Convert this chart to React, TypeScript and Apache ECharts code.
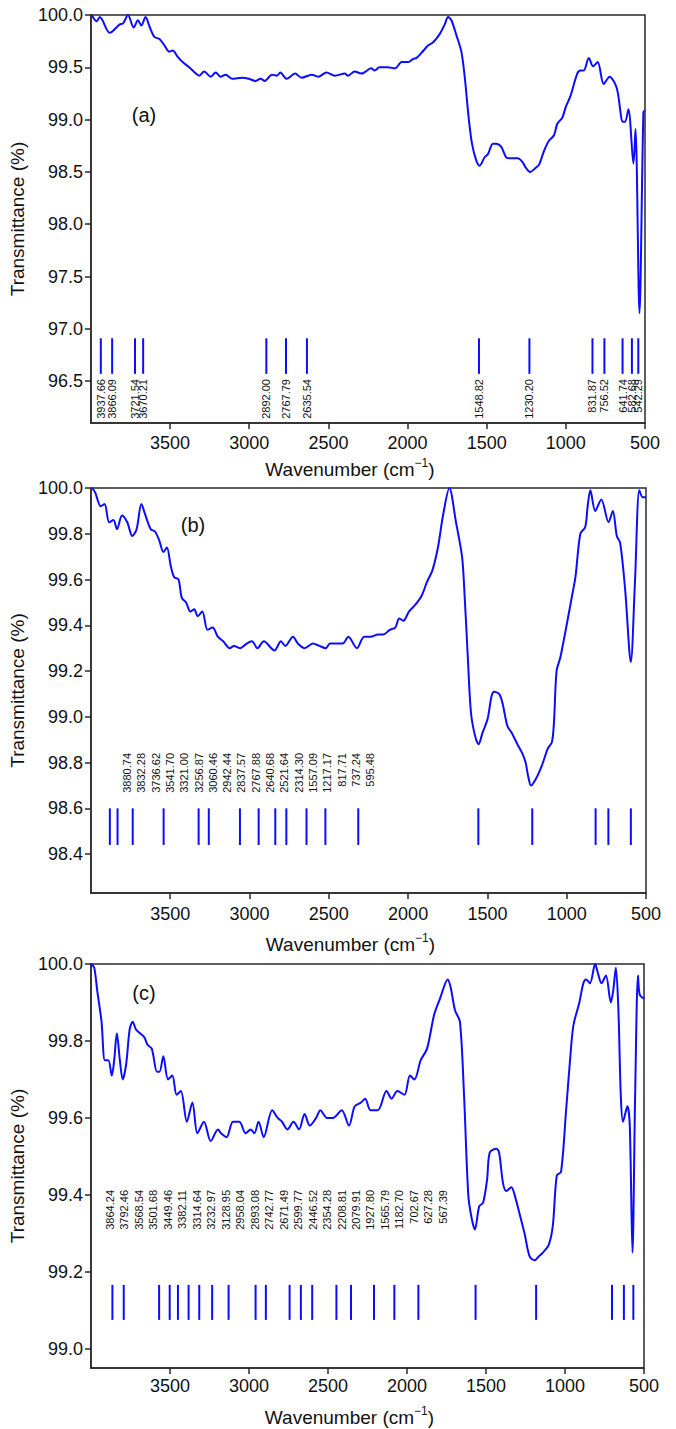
import React, { useEffect, useRef } from "react";
import * as echarts from "echarts";

// ---------- tick values ----------
const xTicks = [3500, 3000, 2500, 2000, 1500, 1000, 500];
const aYTicks = [96.5, 97.0, 97.5, 98.0, 98.5, 99.0, 99.5, 100.0];
const bYTicks = [98.4, 98.6, 98.8, 99.0, 99.2, 99.4, 99.6, 99.8, 100.0];
const cYTicks = [99.0, 99.2, 99.4, 99.6, 99.8, 100.0];

// ---------- panel (a) ----------
const aWave = [3995, 3964, 3944, 3881, 3818, 3797, 3766, 3730, 3703, 3682, 3655, 3630, 3599, 3567, 3536, 3505, 3484, 3452, 3421, 3379, 3337, 3316, 3285, 3243, 3212, 3180, 3149, 3107, 3045, 3003, 2961, 2929, 2902, 2857, 2825, 2804, 2763, 2710, 2669, 2606, 2564, 2512, 2459, 2396, 2376, 2334, 2292, 2229, 2208, 2177, 2125, 2079, 2037, 1995, 1964, 1943, 1911, 1869, 1838, 1796, 1765, 1744, 1723, 1692, 1660, 1639, 1614, 1593, 1566, 1545, 1513, 1492, 1461, 1440, 1408, 1377, 1346, 1304, 1272, 1253, 1225, 1190, 1169, 1138, 1106, 1075, 1054, 1022, 1001, 970, 928, 907, 887, 855, 828, 799, 761, 724, 678, 640, 626, 605, 573, 560, 535, 510, 500];
const aTrans = [100.0, 99.94, 99.98, 99.83, 99.91, 99.92, 100.0, 99.88, 99.95, 99.9, 99.98, 99.89, 99.79, 99.77, 99.71, 99.65, 99.66, 99.6, 99.55, 99.5, 99.44, 99.42, 99.46, 99.41, 99.45, 99.41, 99.43, 99.39, 99.4, 99.39, 99.37, 99.39, 99.37, 99.43, 99.42, 99.45, 99.39, 99.44, 99.4, 99.43, 99.41, 99.45, 99.42, 99.44, 99.42, 99.46, 99.44, 99.49, 99.47, 99.5, 99.5, 99.49, 99.55, 99.55, 99.58, 99.59, 99.64, 99.71, 99.74, 99.82, 99.91, 99.98, 99.95, 99.81, 99.65, 99.41, 99.02, 98.77, 98.61, 98.56, 98.64, 98.67, 98.77, 98.77, 98.74, 98.64, 98.63, 98.63, 98.59, 98.54, 98.5, 98.54, 98.57, 98.7, 98.8, 98.85, 98.96, 99.02, 99.12, 99.23, 99.44, 99.47, 99.47, 99.59, 99.51, 99.55, 99.34, 99.41, 99.3, 98.98, 98.98, 99.1, 98.58, 98.91, 97.15, 99.07, 99.09];
const aPeaks = [3937.66, 3866.09, 3721.54, 3670.21, 2892.0, 2767.79, 2635.54, 1548.82, 1230.2, 831.87, 756.52, 641.74, 582.68, 542.29];

// ---------- panel (b) ----------
const bWave = [3992, 3973, 3938, 3914, 3885, 3858, 3836, 3804, 3771, 3739, 3712, 3682, 3656, 3623, 3596, 3569, 3543, 3521, 3497, 3475, 3448, 3427, 3400, 3373, 3349, 3327, 3298, 3265, 3233, 3200, 3166, 3125, 3098, 3058, 3018, 2985, 2950, 2910, 2843, 2802, 2775, 2726, 2695, 2654, 2600, 2560, 2520, 2493, 2452, 2412, 2377, 2323, 2277, 2237, 2189, 2156, 2116, 2081, 2056, 2030, 1995, 1954, 1914, 1881, 1847, 1812, 1780, 1740, 1698, 1660, 1646, 1625, 1604, 1579, 1556, 1531, 1499, 1474, 1458, 1426, 1405, 1374, 1347, 1311, 1280, 1259, 1243, 1225, 1193, 1155, 1120, 1093, 1080, 1064, 1040, 998, 966, 945, 914, 883, 868, 851, 820, 782, 736, 709, 684, 663, 632, 596, 569, 542, 521, 500];
const bTrans = [100.0, 99.98, 99.92, 99.93, 99.85, 99.86, 99.82, 99.88, 99.85, 99.79, 99.82, 99.93, 99.88, 99.82, 99.81, 99.77, 99.72, 99.74, 99.66, 99.61, 99.6, 99.52, 99.5, 99.46, 99.47, 99.44, 99.46, 99.38, 99.39, 99.35, 99.33, 99.3, 99.31, 99.3, 99.32, 99.33, 99.3, 99.33, 99.29, 99.33, 99.31, 99.35, 99.32, 99.3, 99.32, 99.31, 99.3, 99.32, 99.32, 99.32, 99.35, 99.3, 99.35, 99.35, 99.36, 99.36, 99.38, 99.39, 99.43, 99.42, 99.46, 99.49, 99.53, 99.59, 99.64, 99.74, 99.88, 100.0, 99.85, 99.7, 99.56, 99.28, 99.02, 98.92, 98.88, 98.93, 98.99, 99.09, 99.11, 99.1, 99.06, 98.96, 98.93, 98.88, 98.84, 98.8, 98.74, 98.7, 98.73, 98.79, 98.86, 98.89, 98.98, 99.2, 99.26, 99.41, 99.53, 99.61, 99.8, 99.83, 99.92, 99.99, 99.9, 99.95, 99.85, 99.9, 99.79, 99.76, 99.56, 99.24, 99.6, 99.99, 99.96, 99.96];
const bPeaks = [3880.74, 3832.28, 3736.62, 3541.7, 3321.0, 3256.87, 3060.46, 2942.44, 2837.57, 2767.88, 2640.68, 2521.64, 2314.3, 1557.09, 1217.17, 817.71, 737.24, 595.48];

// ---------- panel (c) ----------
const cWave = [3998, 3979, 3960, 3933, 3912, 3890, 3868, 3853, 3836, 3817, 3799, 3777, 3755, 3736, 3715, 3690, 3663, 3642, 3615, 3582, 3566, 3542, 3512, 3485, 3458, 3431, 3393, 3358, 3326, 3285, 3242, 3196, 3177, 3142, 3101, 3061, 3021, 2988, 2966, 2939, 2907, 2853, 2818, 2791, 2756, 2718, 2683, 2648, 2615, 2575, 2548, 2507, 2467, 2413, 2367, 2331, 2291, 2264, 2231, 2184, 2130, 2097, 2061, 2016, 1981, 1953, 1913, 1873, 1827, 1791, 1742, 1724, 1696, 1665, 1639, 1612, 1591, 1570, 1543, 1518, 1493, 1476, 1434, 1417, 1392, 1371, 1339, 1319, 1287, 1256, 1224, 1192, 1166, 1140, 1103, 1077, 1052, 1025, 993, 968, 947, 909, 884, 867, 842, 809, 794, 769, 741, 710, 695, 678, 662, 647, 633, 605, 590, 573, 556, 538, 527, 500];
const cTrans = [100.0, 99.99, 99.93, 99.85, 99.75, 99.75, 99.71, 99.75, 99.82, 99.75, 99.7, 99.74, 99.83, 99.85, 99.83, 99.82, 99.81, 99.79, 99.78, 99.72, 99.72, 99.76, 99.7, 99.71, 99.66, 99.67, 99.59, 99.64, 99.56, 99.59, 99.54, 99.57, 99.56, 99.55, 99.59, 99.59, 99.56, 99.57, 99.56, 99.59, 99.55, 99.62, 99.6, 99.59, 99.57, 99.59, 99.57, 99.61, 99.58, 99.6, 99.62, 99.6, 99.6, 99.62, 99.58, 99.63, 99.64, 99.65, 99.62, 99.62, 99.67, 99.65, 99.67, 99.66, 99.71, 99.7, 99.75, 99.78, 99.87, 99.91, 99.96, 99.94, 99.88, 99.85, 99.66, 99.4, 99.34, 99.31, 99.37, 99.38, 99.44, 99.51, 99.52, 99.51, 99.43, 99.41, 99.42, 99.4, 99.35, 99.3, 99.24, 99.23, 99.24, 99.25, 99.27, 99.32, 99.45, 99.46, 99.62, 99.75, 99.84, 99.9, 99.95, 99.96, 99.95, 100.0, 99.98, 99.95, 99.97, 99.9, 99.93, 99.99, 99.88, 99.66, 99.59, 99.63, 99.58, 99.25, 99.66, 99.97, 99.92, 99.91];
const cPeaks = [3864.24, 3792.46, 3568.54, 3501.68, 3449.46, 3382.11, 3314.64, 3232.97, 3128.95, 2958.04, 2893.08, 2742.77, 2671.49, 2599.77, 2446.52, 2354.28, 2208.81, 2079.91, 1927.8, 1565.79, 1182.7, 702.67, 627.28, 567.39];

const panelNames = ["(a)", "(b)", "(c)"];

const FONT = "'Liberation Sans', Arial, Helvetica, sans-serif";
const BLUE = "#0c0cff";
const INK = "#111";
const FRAME = "#2a2a2a";

const zip = (w: number[], t: number[]) => w.map((x, i) => [x, t[i]]);

export default function App() {
  const ref = useRef<HTMLDivElement>(null);

  useEffect(() => {
    if (!ref.current) return;
    const chart = echarts.init(ref.current, null, { renderer: "svg" });

    const panels = [
      { grid: { left: 86.5, top: 15, width: 558.5, height: 408 }, yMin: 96.1, yTicks: aYTicks, wave: aWave, trans: aTrans, peaks: aPeaks, mTop: 96.91, mBot: 96.57, labelTop: 96.52, nameGap: 34, labelMargin: 11 },
      { grid: { left: 88, top: 488, width: 558, height: 405 }, yMin: 98.23, yTicks: bYTicks, wave: bWave, trans: bTrans, peaks: bPeaks, mTop: 98.6, mBot: 98.44, labelTop: null, nameGap: 39, labelMargin: 12 },
      { grid: { left: 89, top: 964, width: 555, height: 404 }, yMin: 98.95, yTicks: cYTicks, wave: cWave, trans: cTrans, peaks: cPeaks, mTop: 99.166, mBot: 99.075, labelTop: null, nameGap: 37, labelMargin: 9 },
    ];

    const grids = panels.map((p) => ({
      ...p.grid,
      show: true,
      borderColor: FRAME,
      borderWidth: 1.5,
      backgroundColor: "transparent",
    }));

    const xAxes = panels.map((p, i) => ({
      type: "value",
      gridIndex: i,
      min: 500,
      max: 4000,
      inverse: true,
      name: "Wavenumber (cm{sup|\u22121})",
      nameLocation: "middle",
      nameGap: p.nameGap,
      nameTextStyle: {
        fontFamily: FONT,
        fontSize: 19,
        color: INK,
        padding: [0, 36, 0, 0],
        rich: { sup: { fontFamily: FONT, fontSize: 12, color: INK, padding: [0, 0, 12, 0] } },
      },
      axisLine: { show: true, lineStyle: { color: FRAME, width: 1.5 } },
      axisTick: { show: true, length: 6, customValues: xTicks, lineStyle: { color: FRAME, width: 1.5 } },
      axisLabel: {
        customValues: xTicks,
        margin: p.labelMargin,
        fontFamily: FONT,
        fontSize: 18,
        color: INK,
        formatter: (v: number) => String(v),
      },
      splitLine: { show: false },
    }));

    const yAxes = panels.map((p, i) => ({
      type: "value",
      gridIndex: i,
      min: p.yMin,
      max: 100,
      name: "Transmittance (%)",
      nameLocation: "middle",
      nameGap: 52,
      nameTextStyle: { fontFamily: FONT, fontSize: 19, color: INK },
      axisLine: { show: true, lineStyle: { color: FRAME, width: 1.5 } },
      axisTick: { show: true, length: 6, customValues: p.yTicks, lineStyle: { color: FRAME, width: 1.5 } },
      axisLabel: {
        customValues: p.yTicks,
        margin: 8,
        fontFamily: FONT,
        fontSize: 18,
        color: INK,
        formatter: (v: number) => v.toFixed(1),
      },
      splitLine: { show: false },
    }));

    const lineSeries = panels.map((p, i) => ({
      type: "line",
      xAxisIndex: i,
      yAxisIndex: i,
      data: zip(p.wave, p.trans),
      showSymbol: false,
      smooth: 0.3,
      lineStyle: { color: BLUE, width: 2 },
      silent: true,
    }));

    const markerSeries = panels.map((p, i) => ({
      type: "custom",
      xAxisIndex: i,
      yAxisIndex: i,
      silent: true,
      clip: false,
      data: p.peaks.map((w) => [w, p.mTop]),
      encode: { x: 0, y: 1 },
      renderItem: (params: any, api: any) => {
        const w = api.value(0);
        const a = api.coord([w, p.mTop]);
        const b = api.coord([w, p.mBot]);
        const children: any[] = [
          { type: "line", shape: { x1: a[0], y1: a[1], x2: b[0], y2: b[1] }, style: { stroke: BLUE, lineWidth: 2 } },
        ];
        if (p.labelTop !== null) {
          const c = api.coord([w, p.labelTop]);
          children.push({
            type: "text",
            x: c[0],
            y: c[1],
            rotation: Math.PI / 2,
            style: { text: p.peaks[params.dataIndex].toFixed(2), fontFamily: FONT, fontSize: 11, fill: INK, align: "right", verticalAlign: "middle" },
          });
        }
        return { type: "group", children };
      },
    }));

    const rowLabel = (vals: number[], x0: number, step: number, y: number) =>
      vals.map((w, i) => ({
        type: "text",
        x: x0 + i * step,
        y,
        rotation: Math.PI / 2,
        silent: true,
        style: { text: w.toFixed(2), fontFamily: FONT, fontSize: 11, fill: INK, align: "right", verticalAlign: "middle" },
      }));

    const letterPos = [
      [144, 115],
      [193, 525],
      [144, 993],
    ];
    const letters = panelNames.map((t, i) => ({
      type: "text",
      x: letterPos[i][0],
      y: letterPos[i][1],
      silent: true,
      style: { text: t, fontFamily: FONT, fontSize: 20, fill: INK, align: "center", verticalAlign: "middle" },
    }));

    chart.setOption({
      animation: false,
      grid: grids,
      xAxis: xAxes,
      yAxis: yAxes,
      series: [...lineSeries, ...markerSeries],
      graphic: [
        ...letters,
        ...rowLabel(bPeaks, 127, 14.3, 753),
        ...rowLabel(cPeaks, 110, 14.47, 1190),
      ],
    });

    return () => chart.dispose();
  }, []);

  return (
    <div
      ref={ref}
      style={{ position: "absolute", left: 0, top: 0, width: 676, height: 1429, background: "#fff" }}
    />
  );
}
